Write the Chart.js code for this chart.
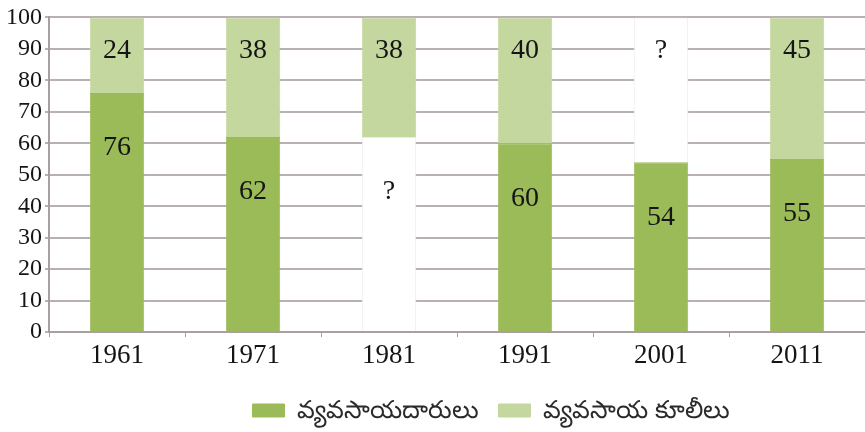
<!DOCTYPE html>
<html>
<head>
<meta charset="utf-8">
<script src="https://cdn.jsdelivr.net/npm/chart.js@4/dist/chart.umd.min.js"></script>
<style>
  html, body { margin: 0; padding: 0; background: #fff; }
  #wrap { width: 865px; height: 432px; }
</style>
</head>
<body>
<div id="wrap"><canvas id="workersChart" width="865" height="432"></canvas></div>
<script>
var years = ['1961', '1971', '1981', '1991', '2001', '2011'];
var cultivators = [76, 62, 62, 60, 54, 55];
var labourers = [24, 38, 38, 40, 46, 45];
var cultivatorLabels = ['76', '62', '?', '60', '54', '55'];
var labourerLabels = ['24', '38', '38', '40', '?', '45'];
var seriesNames = ['వ్యవసాయదారులు', 'వ్యవసాయ కూలీలు'];

var dark = '#9bbb59', light = '#c4d79e', blank = '#ffffff';

function colorsFor(labels, color) {
  return labels.map(function (l) { return l === '?' ? blank : color; });
}
function bordersFor(labels, color) {
  return labels.map(function (l) { return l === '?' ? '#ececec' : color; });
}

// write the numbers (or ?) inside each bar segment
var barText = {
  id: 'barText',
  afterLayout: function (chart) {
    // legend sits a bit right of centre and lower in the original
    var lg = chart.legend;
    lg.left += 57; lg.right += 57;
    lg.top += 3; lg.bottom += 3;
  },
  afterDatasetsDraw: function (chart) {
    var ctx = chart.ctx;
    var texts = [cultivatorLabels, labourerLabels];
    ctx.save();
    ctx.font = '28px "Liberation Serif"';
    ctx.fillStyle = '#151515';
    ctx.textAlign = 'center';
    ctx.textBaseline = 'middle';
    chart.data.datasets.forEach(function (ds, d) {
      chart.getDatasetMeta(d).data.forEach(function (bar, i) {
        var off = d === 0 ? 55 : 33;
        ctx.fillText(texts[d][i], bar.x, bar.y + off);
      });
    });
    ctx.restore();
  }
};

var chart = new Chart(document.getElementById('workersChart'), {
  type: 'bar',
  data: {
    labels: years,
    datasets: [{
      label: seriesNames[0],
      data: cultivators,
      backgroundColor: colorsFor(cultivatorLabels, dark),
      borderColor: bordersFor(cultivatorLabels, dark),
      borderWidth: 1
    }, {
      label: seriesNames[1],
      data: labourers,
      backgroundColor: colorsFor(labourerLabels, light),
      borderColor: bordersFor(labourerLabels, light),
      borderWidth: 1
    }]
  },
  options: {
    responsive: false,
    animation: false,
    devicePixelRatio: 1,
    layout: { padding: { top: 6, right: 0, left: 3, bottom: 2 } },
    datasets: { bar: { barPercentage: 0.4, categoryPercentage: 1 } },
    scales: {
      x: {
        stacked: true,
        border: { color: '#a8a0a0', width: 2 },
        grid: { display: true, drawOnChartArea: false, tickLength: 5, color: '#a8a0a0', offset: true },
        ticks: { color: '#151515', font: { family: 'Liberation Serif', size: 27 }, padding: 3 }
      },
      y: {
        stacked: true,
        min: 0,
        max: 100,
        border: { color: '#a8a0a0', width: 2 },
        grid: { color: '#b9b1b1', lineWidth: 2, tickLength: 4 },
        ticks: { stepSize: 10, autoSkip: false, color: '#151515', font: { family: 'Liberation Serif', size: 24 }, padding: 3 }
      }
    },
    plugins: {
      tooltip: { enabled: false },
      legend: {
        position: 'bottom',
        labels: {
          boxWidth: 32,
          boxHeight: 13,
          color: '#2a2a2a',
          padding: 19.5,
          font: { family: 'Noto Sans', size: 25 }
        }
      }
    }
  },
  plugins: [barText]
});
</script>
</body>
</html>
